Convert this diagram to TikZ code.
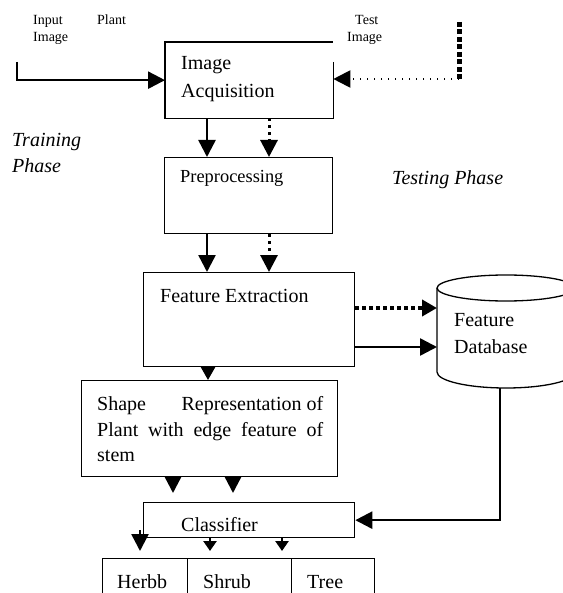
\documentclass[tikz,border=0pt]{standalone}
\usepackage{fontspec}
\setmainfont{Liberation Serif}
\usetikzlibrary{arrows.meta}
\begin{document}
\begin{tikzpicture}[x=1pt,y=-1pt,
  box/.style={draw, line width=1.3pt, inner sep=0pt, anchor=north west},
  txt/.style={inner sep=0pt, anchor=base west, font=\fontsize{20}{24}\selectfont},
  smalltxt/.style={inner sep=0pt, anchor=base west, font=\fontsize{14}{16}\selectfont},
  phasetxt/.style={inner sep=0pt, anchor=base west, font=\fontsize{20}{24}\selectfont\itshape},
  arr/.style={line width=2.5pt, -{Triangle[length=17pt,width=17pt]}},
  arrs/.style={line width=2.5pt, -{Triangle[length=13pt,width=14pt]}},
  arrt/.style={line width=2.5pt, -{Triangle[length=10pt,width=13pt]}},
  dotarr/.style={line width=3pt, dash pattern=on 3pt off 4pt, -{Triangle[length=17pt,width=17pt]}},
  dotarrh/.style={line width=4pt, dash pattern=on 4pt off 3pt, -{Triangle[length=15pt,width=16pt]}},
  thinline/.style={line width=1.3pt},
]
\useasboundingbox (0,0) rectangle (562,593);

% boxes
\node[box, draw=none, minimum width=167pt, minimum height=75pt] (ia) at (165,42) {};
\draw[thinline] ([yshift=-20pt]ia.north east) -- (ia.south east) -- (ia.south west) -- (ia.north west) -- (ia.north east);
\node[box, minimum width=168pt, minimum height=76pt] (pp) at (164,157) {};
\node[box, minimum width=211pt, minimum height=94pt] (fe) at (143,272) {};
\node[box, minimum width=256pt, minimum height=96pt] (sh) at (81,380) {};
\node[box, minimum width=211pt, minimum height=35pt] (cl) at (143,502) {};
\node[box, minimum width=85pt, minimum height=45pt] (herb) at (102,558) {};
\node[box, minimum width=104pt, minimum height=45pt] (shrub) at (187,558) {};
\node[box, minimum width=83pt, minimum height=45pt] (tree) at (291,558) {};

% database cylinder
\node[inner sep=0pt, minimum width=138pt, minimum height=113pt, anchor=north west] (db) at (437,275) {};
\draw[thinline] (506,288) ellipse [x radius=69pt, y radius=13pt];
\draw[thinline] (437,288) -- (437,372) arc[start angle=180, end angle=360, x radius=69pt, y radius=16pt] -- (575,288);

% texts
\node[smalltxt] (tin1) at (33,25) {Input};
\node[smalltxt] (tin2) at (33,42) {Image};
\node[smalltxt] (tpl) at (97,25) {Plant};
\node[smalltxt] (tte1) at (355,25) {Test};
\node[smalltxt] (tte2) at (347,42) {Image};
\node[txt] (tia1) at (181,70) {Image};
\node[txt] (tia2) at (181,98) {Acquisition};
\node[phasetxt] (ttr1) at (12,147) {Training};
\node[phasetxt] (ttr2) at (12,173) {Phase};
\node[phasetxt] (tts) at (392,185) {Testing Phase};
\node[txt, font=\fontsize{18.4}{22}\selectfont] (tpp) at (180,183) {Preprocessing};
\node[txt] (tfe) at (160,302) {Feature Extraction};
\node[txt] (tdb1) at (454,326) {Feature};
\node[txt] (tdb2) at (454,353) {Database};
\node[txt] (tsh1) at (97,410) {\makebox[226pt][s]{Shape\hfill Representation of}};
\node[txt] (tsh2) at (97,436) {\makebox[226pt][s]{Plant with edge feature of}};
\node[txt] (tsh3) at (97,461) {stem};
\node[txt] (tcl) at (181,531) {Classifier};
\node[txt] (the) at (117,588) {Herbb};
\node[txt] (tsr) at (203,588) {Shrub};
\node[txt] (ttr) at (307,588) {Tree};

% helper coordinates
\coordinate (xa) at (207,0);
\coordinate (xb) at (269,0);
\coordinate (xc) at (208,0);
\coordinate (xd) at (173,0);
\coordinate (xe) at (233,0);
\coordinate (xf) at (140,0);
\coordinate (xg) at (210,0);
\coordinate (xh) at (282,0);
\coordinate (ya) at (0,308);
\coordinate (yb) at (0,347);
\coordinate (yc) at (0,493);
\coordinate (yd) at (0,551);
\coordinate (ye) at (0,530);

% connectors
\coordinate (inp) at (17,62);
\draw[arr] (inp) |- (ia.west);
\coordinate (tst) at (459,22);
\coordinate (tstc) at (459,79);
\draw[line width=5pt, dash pattern=on 5pt off 2.5pt] (tst) -- (tstc);
\draw[line width=2pt, dash pattern=on 1.5pt off 5.5pt, -{Triangle[length=17pt,width=17pt]}] (tstc) -- (ia.east |- tstc);

\draw[arr] (ia.south -| xa) -- (pp.north -| xa);
\draw[dotarr] (ia.south -| xb) -- (pp.north -| xb);
\draw[arr] (pp.south -| xa) -- (fe.north -| xa);
\draw[dotarr] (pp.south -| xb) -- (fe.north -| xb);

\draw[dotarrh] (fe.east |- ya) -- (db.west |- ya);
\draw[arr] (fe.east |- yb) -- (db.west |- yb);

\draw[arrs] (fe.south -| xc) -- (sh.north -| xc);
\draw[arr] (sh.south -| xd) -- (xd |- yc);
\draw[arr] (sh.south -| xe) -- (xe |- yc);

\coordinate (xdb) at (500,0);
\draw[arr] (db.south -| xdb) |- (cl.east);

\draw[arr] (xf |- ye) -- (xf |- yd);
\draw[arrt] (cl.south -| xg) -- (xg |- yd);
\draw[arrt] (cl.south -| xh) -- (xh |- yd);
\end{tikzpicture}
\end{document}
